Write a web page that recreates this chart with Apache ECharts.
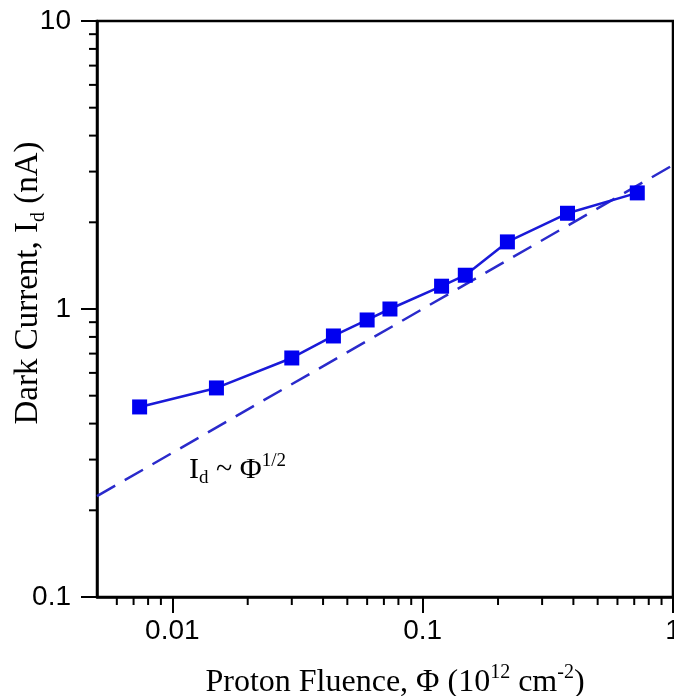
<!DOCTYPE html>
<html>
<head>
<meta charset="utf-8">
<script src="https://cdn.jsdelivr.net/npm/echarts@6/dist/echarts.min.js"></script>
<style>html,body{margin:0;padding:0;background:#fff;}#c{width:674px;height:696px;}</style>
</head>
<body>
<div id="c"></div>
<script>
// Data
const fluence = [0.0074, 0.015, 0.030, 0.044, 0.060, 0.074, 0.119, 0.148, 0.218, 0.379, 0.72];
const darkCurrent = [0.457, 0.532, 0.676, 0.806, 0.916, 1.0, 1.20, 1.31, 1.71, 2.15, 2.53];
const fitFluence = [0.005, 1];
const fitCurrent = [0.224, 3.16];
const xMinorTicks = [0.006, 0.007, 0.008, 0.009, 0.02, 0.03, 0.04, 0.05, 0.06, 0.07, 0.08, 0.09, 0.2, 0.3, 0.4, 0.5, 0.6, 0.7, 0.8, 0.9];
const yMinorTicks = [0.2, 0.3, 0.4, 0.5, 0.6, 0.7, 0.8, 0.9, 2, 3, 4, 5, 6, 7, 8, 9];

const chart = echarts.init(document.getElementById('c'));
const serif = '"Liberation Serif", "Times New Roman", serif';
const sans = '"Liberation Sans", Arial, sans-serif';

chart.setOption({
  animation: false,
  backgroundColor: '#fff',
  grid: { left: 97, right: 1, top: 21, bottom: 99, containLabel: false, outerBoundsMode: 'none',
    show: true, borderColor: '#000', borderWidth: 2.5, backgroundColor: 'transparent' },
  xAxis: {
    type: 'log', logBase: 10, min: 0.005, max: 1,
    axisLine: { lineStyle: { color: '#000', width: 2.5 } },
    axisTick: { length: 16, lineStyle: { color: '#000', width: 2 } },
    splitLine: { show: false },
    axisLabel: { showMinLabel: false, hideOverlap: false, color: '#000', fontFamily: sans, fontSize: 28, margin: 20,
      formatter: v => (v < 0.006 ? '' : String(+v.toPrecision(3))) },
    name: '{t|Proton Fluence, Φ (10}{sup|12}{t| cm}{sup|-2}{t|)}',
    nameLocation: 'middle', nameGap: 66,
    nameTextStyle: {
      padding: [0, 0, 0, 20],
      rich: {
        t: { fontFamily: serif, fontSize: 32, color: '#000', lineHeight: 40 },
        sup: { fontFamily: serif, fontSize: 20, color: '#000', verticalAlign: 'top', lineHeight: 24 }
      }
    }
  },
  yAxis: {
    type: 'log', logBase: 10, min: 0.1, max: 10,
    axisLine: { lineStyle: { color: '#000', width: 2.5 } },
    axisTick: { length: 16, lineStyle: { color: '#000', width: 2 } },
    splitLine: { show: false },
    axisLabel: { color: '#000', fontFamily: sans, fontSize: 28, margin: 26,
      formatter: v => String(+v.toPrecision(3)) }
  },
  graphic: [
    {
      type: 'text', x: 28, y: 283, rotation: Math.PI / 2,
      style: {
        text: '{t|Dark Current, I}{sub|d}{t| (nA)}',
        align: 'center', verticalAlign: 'middle',
        rich: {
          t: { fontFamily: serif, fontSize: 33, fill: '#000', lineHeight: 42 },
          sub: { fontFamily: serif, fontSize: 20, fill: '#000', verticalAlign: 'bottom', lineHeight: 20 }
        }
      }
    },
    {
      type: 'text', x: 189, y: 470,
      style: {
        text: '{t|I}{sub|d}{t| ~ Φ}{sup|1/2}',
        align: 'left', verticalAlign: 'middle',
        rich: {
          t: { fontFamily: serif, fontSize: 30, fill: '#000', lineHeight: 36 },
          sub: { fontFamily: serif, fontSize: 19, fill: '#000', verticalAlign: 'bottom', lineHeight: 16 },
          sup: { fontFamily: serif, fontSize: 19, fill: '#000', verticalAlign: 'top', lineHeight: 22 }
        }
      }
    }
  ],
  series: [
    {
      type: 'line',
      data: fitFluence.map((x, i) => [x, fitCurrent[i]]),
      showSymbol: false, symbol: 'none',
      lineStyle: { color: '#2a2acb', width: 2.5, type: [21, 11] },
      z: 2
    },
    {
      type: 'line',
      data: fluence.map((x, i) => [x, darkCurrent[i]]),
      symbol: 'rect', symbolSize: 15,
      itemStyle: { color: '#0000f0' },
      lineStyle: { color: '#1a1ad8', width: 2.5 },
      z: 3
    },
    {
      type: 'custom', silent: true, clip: false,
      data: xMinorTicks.map(v => [v, 1]),
      renderItem: (params, api) => {
        const cs = params.coordSys;
        const p = api.coord([api.value(0), 1]);
        const yb = cs.y + cs.height;
        return { type: 'line', shape: { x1: p[0], y1: yb, x2: p[0], y2: yb + 8 }, style: { stroke: '#000', lineWidth: 2 } };
      },
      z: 5
    },
    {
      type: 'custom', silent: true, clip: false,
      data: yMinorTicks.map(v => [0.01, v]),
      renderItem: (params, api) => {
        const cs = params.coordSys;
        const p = api.coord([0.01, api.value(1)]);
        return { type: 'line', shape: { x1: cs.x, y1: p[1], x2: cs.x - 8, y2: p[1] }, style: { stroke: '#000', lineWidth: 2 } };
      },
      z: 5
    }
  ]
});
</script>
</body>
</html>
